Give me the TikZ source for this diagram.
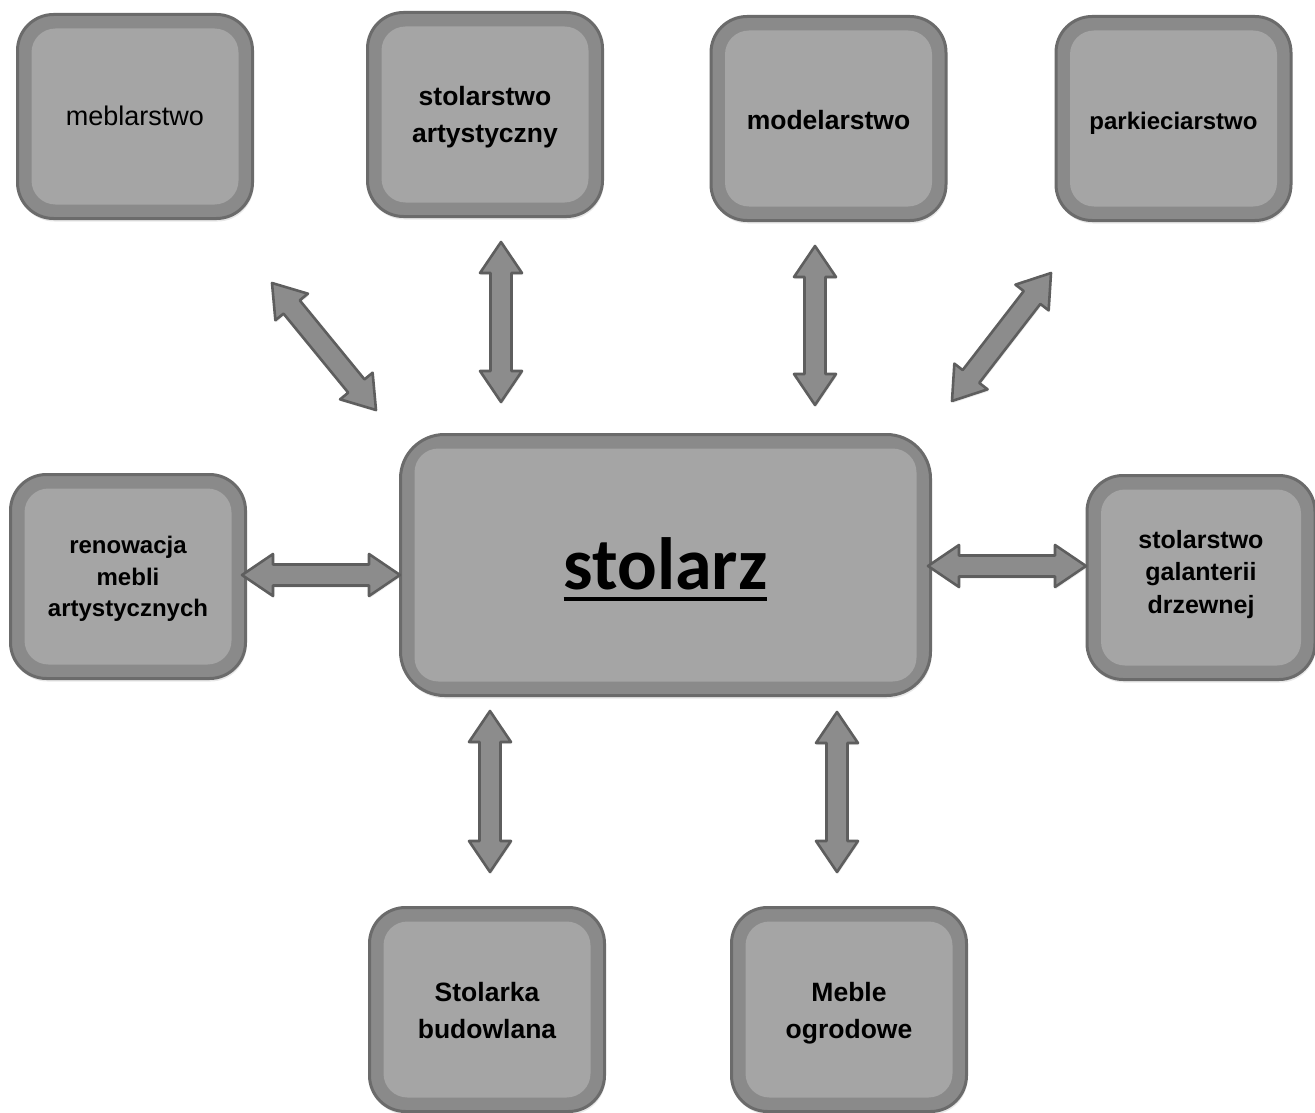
\documentclass[tikz,border=0pt]{standalone}
\usepackage{fontspec}
\setmainfont{Liberation Sans}
\newfontfamily\carlito{Carlito}
\usetikzlibrary{calc,shadows}
\definecolor{boxouter}{HTML}{8A8A8A}
\definecolor{boxline}{HTML}{6B6B6B}
\definecolor{boxinner}{HTML}{A5A5A5}
\definecolor{arrfill}{HTML}{8C8C8C}
\definecolor{arrline}{HTML}{5E5E5E}
\tikzset{
  card/.style={draw=boxline, line width=3pt, fill=boxouter, rounded corners=36pt,
    inner sep=0pt, minimum width=235pt, minimum height=204pt,
    path picture={\fill[boxinner, rounded corners=24pt]
      ([shift={(14pt,-14pt)}]path picture bounding box.north west) rectangle
      ([shift={(-14pt,14pt)}]path picture bounding box.south east);},
    drop shadow={opacity=0.18, shadow xshift=1pt, shadow yshift=-3pt}},
  cardtext/.style={inner sep=0pt, align=center, text=black,
    font=\bfseries\fontsize{26.5}{37}\selectfont},
  blockarrow/.style={draw=arrline, fill=arrfill, line width=2.6pt, line join=round,
    drop shadow={opacity=0.15, shadow xshift=1pt, shadow yshift=-2pt}},
}
\newcommand\dblarrow[2]{\draw[blockarrow] (#1)
  -- ($(#1)!31pt!(#2)!21pt!90:(#2)$)
  -- ($(#1)!31pt!(#2)!10.5pt!90:(#2)$)
  -- ($(#2)!31pt!(#1)!10.5pt!-90:(#1)$)
  -- ($(#2)!31pt!(#1)!21pt!-90:(#1)$)
  -- (#2)
  -- ($(#2)!31pt!(#1)!21pt!90:(#1)$)
  -- ($(#2)!31pt!(#1)!10.5pt!90:(#1)$)
  -- ($(#1)!31pt!(#2)!10.5pt!-90:(#2)$)
  -- ($(#1)!31pt!(#2)!21pt!-90:(#2)$)
  -- cycle;}
\begin{document}
\begin{tikzpicture}[x=1pt,y=-1pt]
\useasboundingbox[fill=white] (0,0) rectangle (1315,1113);
% boxes
\node[card] (meb) at (135,116.5) {};
\node[cardtext, font=\mdseries\fontsize{27}{32}\selectfont] (meb-t) at ([yshift=1pt]meb.center) {meblarstwo};
\node[card] (art) at (485,114.5) {};
\node[cardtext] (art-t) at ([yshift=-3pt]art.center) {stolarstwo\\artystyczny};
\node[card] (mod) at (828.5,118.5) {};
\node[cardtext] (mod-t) at ([yshift=-2pt]mod.center) {modelarstwo};
\node[card] (par) at (1173.5,118.5) {};
\node[cardtext, font=\bfseries\fontsize{24}{30}\selectfont] (par-t) at ([yshift=-5pt]par.center) {parkieciarstwo};
\node[card] (ren) at (128,576.5) {};
\node[cardtext, font=\bfseries\fontsize{24}{31.5}\selectfont] (ren-t) at ([yshift=-2.5pt]ren.center) {renowacja\\mebli\\artystycznych};
\node[card, minimum width=530pt, minimum height=261pt, rounded corners=44pt] (stolarz) at (665.5,565) {};
\node[cardtext, text height=52pt, text depth=0pt] (stolarz-t) at ([yshift=2pt]stolarz.center)
  {\carlito\bfseries\fontsize{74}{80}\selectfont\setbox0\hbox{stolarz}\rlap{\rule[-12pt]{\wd0}{4pt}}\box0};
\node[card, minimum width=228pt] (gal) at (1201,577.5) {};
\node[cardtext, font=\bfseries\fontsize{25}{32.5}\selectfont] (gal-t) at ([yshift=3pt]gal.center) {stolarstwo\\galanterii\\drzewnej};
\node[card] (bud) at (487,1009.5) {};
\node[cardtext] (bud-t) at ([yshift=-1pt]bud.center) {Stolarka\\budowlana};
\node[card] (ogr) at (849,1009.5) {};
\node[cardtext] (ogr-t) at ([yshift=-4pt]ogr.center) {Meble\\ogrodowe};
% arrow ends
\coordinate (a1s) at (272,283);  \coordinate (a1e) at (376,410);
\coordinate (a2s) at (501,242);  \coordinate (a2e) at (501,402);
\coordinate (a3s) at (815,246);  \coordinate (a3e) at (815,405);
\coordinate (a4s) at (1051,273); \coordinate (a4e) at (952,401);
\coordinate (a5s) at (242,575);  \coordinate (a5e) at (400,575);
\coordinate (a6s) at (928,566);  \coordinate (a6e) at (1086,566);
\coordinate (a7s) at (490,711);  \coordinate (a7e) at (490,872);
\coordinate (a8s) at (837,712);  \coordinate (a8e) at (837,872);
\dblarrow{a1s}{a1e}
\dblarrow{a2s}{a2e}
\dblarrow{a3s}{a3e}
\dblarrow{a4s}{a4e}
\dblarrow{a5s}{a5e}
\dblarrow{a6s}{a6e}
\dblarrow{a7s}{a7e}
\dblarrow{a8s}{a8e}
\end{tikzpicture}
\end{document}
